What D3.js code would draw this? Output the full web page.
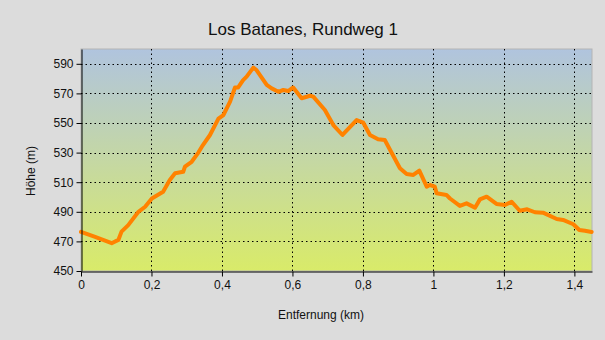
<!DOCTYPE html>
<html>
<head>
<meta charset="utf-8">
<script src="https://cdn.jsdelivr.net/npm/d3@7/dist/d3.min.js"></script>
<style>
  html, body { margin: 0; padding: 0; background: #dcdcdc; }
  svg { display: block; }
  text { font-family: "Liberation Sans", Arial, sans-serif; }
</style>
</head>
<body>
<svg id="chart" width="605" height="340"></svg>
<script>
// Elevation profile of the walk: distance (km) and height (m)
const distanceKm = [0, 0.04, 0.087, 0.106, 0.115, 0.134, 0.163, 0.182, 0.201, 0.233, 0.252, 0.267, 0.290, 0.295, 0.314, 0.333, 0.343, 0.366, 0.390, 0.404, 0.423, 0.437, 0.446, 0.460, 0.470, 0.489, 0.498, 0.527, 0.541, 0.560, 0.574, 0.588, 0.602, 0.626, 0.650, 0.659, 0.692, 0.716, 0.742, 0.782, 0.801, 0.820, 0.843, 0.862, 0.905, 0.924, 0.943, 0.960, 0.981, 0.990, 1.004, 1.009, 1.037, 1.047, 1.075, 1.094, 1.118, 1.132, 1.151, 1.179, 1.203, 1.222, 1.245, 1.266, 1.288, 1.311, 1.350, 1.368, 1.397, 1.414, 1.430, 1.449];
const heightM = [476.4, 473, 468.8, 471, 476.6, 481, 490, 493.4, 499, 503.6, 511.5, 516, 517, 520.5, 523.8, 530, 534, 541.9, 553, 555.4, 564.4, 574, 574, 579, 581.3, 587.4, 585.8, 575.7, 573.4, 571.1, 572.3, 571.6, 574, 566.7, 568.4, 567.8, 558.8, 548.6, 541.9, 552, 550.2, 541.9, 539, 538.5, 519.4, 515.5, 514.9, 517.8, 507, 508.1, 507, 502.5, 501.4, 499, 494, 495.7, 492.8, 498.4, 500.2, 495.3, 494.6, 496.8, 490.7, 491.7, 489.7, 489.4, 485.1, 484.5, 481.6, 477.7, 477.2, 476.4];

const xTicks = [0, 0.2, 0.4, 0.6, 0.8, 1, 1.2, 1.4];
const yTicks = [450, 470, 490, 510, 530, 550, 570, 590];

const chartTitle = "Los Batanes, Rundweg 1";
const xTitle = "Entfernung (km)";
const yTitle = "Höhe (m)";

const svg = d3.select("#chart");
const plot = { left: 81, right: 592, top: 49, bottom: 271 };

const x = d3.scaleLinear().domain([0, 1.45]).range([plot.left, plot.right]);
const y = d3.scaleLinear().domain([450, 600]).range([plot.bottom, plot.top]);

const fmt = v => String(v).replace(".", ",");

// background gradient of the plot area
const defs = svg.append("defs");
const grad = defs.append("linearGradient")
  .attr("id", "bg").attr("x1", 0).attr("y1", 0).attr("x2", 0).attr("y2", 1);
grad.append("stop").attr("offset", "0%").attr("stop-color", "#b0c4de");
grad.append("stop").attr("offset", "100%").attr("stop-color", "#d9eb69");

svg.append("rect")
  .attr("x", plot.left).attr("y", plot.top)
  .attr("width", plot.right - plot.left).attr("height", plot.bottom - plot.top)
  .attr("fill", "url(#bg)")
  .attr("stroke", "#b4b4b4").attr("stroke-width", 1);

// dotted grid
const grid = svg.append("g").attr("stroke", "#000").attr("stroke-width", 1)
  .attr("stroke-dasharray", "1.5,3");
grid.selectAll("line.h").data(yTicks.filter(v => v > 450)).join("line")
  .attr("x1", plot.left).attr("x2", plot.right)
  .attr("y1", d => Math.round(y(d)) + 0.5).attr("y2", d => Math.round(y(d)) + 0.5);
grid.selectAll("line.v").data(xTicks.filter(v => v > 0)).join("line")
  .attr("y1", plot.top).attr("y2", plot.bottom)
  .attr("x1", d => Math.round(x(d)) + 0.5).attr("x2", d => Math.round(x(d)) + 0.5);

// elevation line
const line = d3.line()
  .x((d, i) => x(distanceKm[i]))
  .y(d => y(d))
  .curve(d3.curveLinear);
svg.append("path")
  .datum(heightM)
  .attr("d", line)
  .attr("fill", "none")
  .attr("stroke", "#ff8200")
  .attr("stroke-width", 4)
  .attr("stroke-linejoin", "round")
  .attr("stroke-linecap", "round");

// axes
const xAxis = svg.append("g")
  .attr("transform", `translate(0,${plot.bottom + 0.5})`)
  .call(d3.axisBottom(x).tickValues(xTicks).tickFormat(fmt).tickSizeOuter(0).tickSizeInner(5).tickPadding(4));
const yAxis = svg.append("g")
  .attr("transform", `translate(${plot.left + 0.5},0)`)
  .call(d3.axisLeft(y).tickValues(yTicks).tickSizeOuter(0).tickSizeInner(5).tickPadding(3));

[xAxis, yAxis].forEach(a => {
  a.select(".domain").attr("stroke", "#000");
  a.selectAll(".tick line").attr("stroke", "#000");
  a.selectAll(".tick text")
    .attr("fill", "#111")
    .style("font-family", "'Liberation Sans', Arial, sans-serif")
    .style("font-size", "12px");
});

// titles
svg.append("text")
  .attr("x", 303).attr("y", 35)
  .attr("text-anchor", "middle")
  .attr("font-size", 17)
  .attr("fill", "#111")
  .text(chartTitle);

svg.append("text")
  .attr("x", 321).attr("y", 319)
  .attr("text-anchor", "middle")
  .attr("font-size", 12)
  .attr("fill", "#111")
  .text(xTitle);

svg.append("text")
  .attr("transform", "translate(35,171) rotate(-90)")
  .attr("text-anchor", "middle")
  .attr("font-size", 12)
  .attr("fill", "#111")
  .text(yTitle);
</script>
</body>
</html>
